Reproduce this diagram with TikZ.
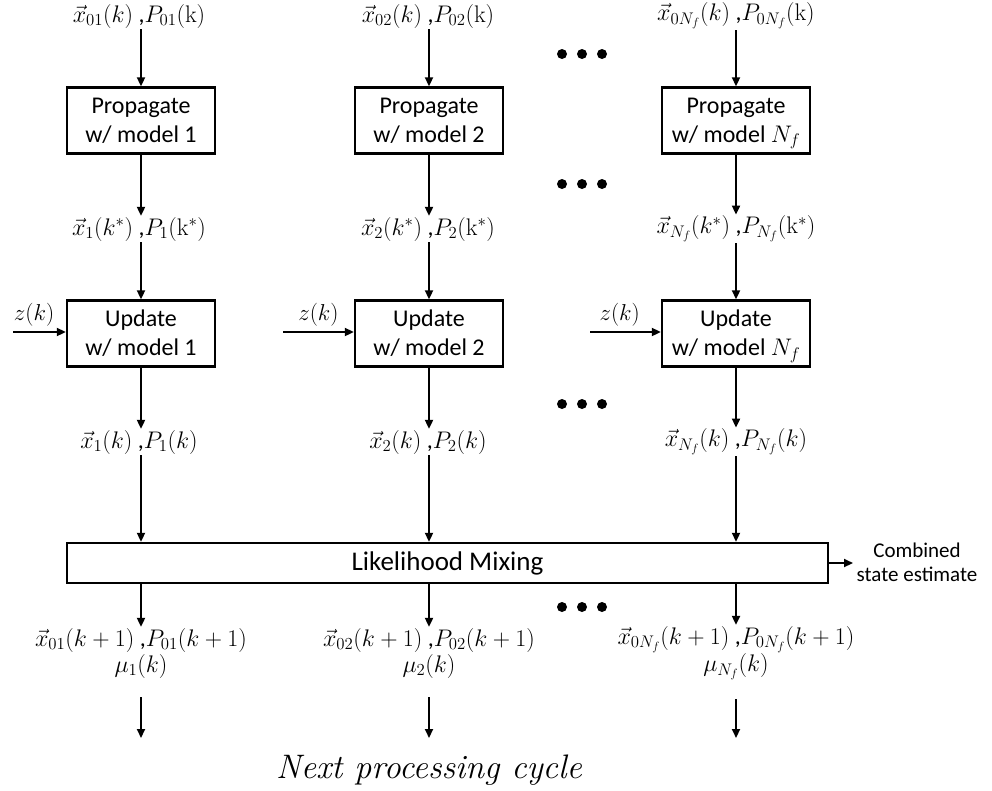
\RequirePackage{fix-cm}
\documentclass[tikz,border=0pt]{standalone}
\usepackage[no-math]{fontspec}
\setmainfont{Carlito}
\newfontfamily\nextfont{Latin Modern Roman}
\usetikzlibrary{arrows.meta}

\begin{document}
\begin{tikzpicture}[x=1pt,y=-1pt,
  every node/.style={inner sep=0pt},
  procbox/.style={draw, line width=2.4pt, minimum width=148pt, minimum height=66pt,
    align=center, font=\fontsize{24}{29}\selectfont},
  mixbox/.style={draw, line width=2.4pt, minimum width=761pt, minimum height=40pt,
    font=\fontsize{27}{30}\selectfont},
  mathlbl/.style={font=\fontsize{24}{26}\selectfont, align=center, inner sep=1pt},
  zlbl/.style={font=\fontsize{23}{26}\selectfont},
  arr/.style={line width=2pt, -{Triangle[length=9pt,width=8pt]}},
  dot/.style={fill=black}
]
\useasboundingbox (0,0) rectangle (992,790);

% Processing boxes, one column per filter model
\node[procbox] (prop1) at (141,120.5) {Propagate\\w/ model 1};
\node[procbox] (prop2) at (429,120.5) {Propagate\\w/ model 2};
\node[procbox] (prop3) at (736,120.5) {Propagate\\w/ model \smash{$N_f$}};
\node[procbox] (upd1) at (141,333.5) {Update\\w/ model 1};
\node[procbox] (upd2) at (429,333.5) {Update\\w/ model 2};
\node[procbox] (upd3) at (736,333.5) {Update\\w/ model \smash{$N_f$}};
\node[mixbox] (lik) at (447.5,563) {Likelihood Mixing};

% Initial conditions
\node[mathlbl] (in1) at (139,16) {$\vec{x}_{01}(k)$\ ,$P_{01}(\mathrm{k})$};
\node[mathlbl] (in2) at (428,16) {$\vec{x}_{02}(k)$\ ,$P_{02}(\mathrm{k})$};
\node[mathlbl] (in3) at (736,16) {$\vec{x}_{0N_f}(k)$\ ,$P_{0N_f}(\mathrm{k})$};

% Propagated estimates
\node[mathlbl] (mid1) at (139,229) {$\vec{x}_{1}(k^*)$\ ,$P_{1}(\mathrm{k}^*)$};
\node[mathlbl] (mid2) at (428,229) {$\vec{x}_{2}(k^*)$\ ,$P_{2}(\mathrm{k}^*)$};
\node[mathlbl] (mid3) at (736,229) {$\vec{x}_{N_f}(k^*)$\ ,$P_{N_f}(\mathrm{k}^*)$};

% Updated estimates
\node[mathlbl] (out1) at (139,442) {$\vec{x}_{1}(k)$\ ,$P_{1}(k)$};
\node[mathlbl] (out2) at (428,442) {$\vec{x}_{2}(k)$\ ,$P_{2}(k)$};
\node[mathlbl] (out3) at (736,442) {$\vec{x}_{N_f}(k)$\ ,$P_{N_f}(k)$};

% Mixed initial conditions for the next cycle
\node[mathlbl] (bot1) at (141,653) {$\vec{x}_{01}(k+1)$\ ,$P_{01}(k+1)$\\$\mu_{1}(k)$};
\node[mathlbl] (bot2) at (429,653) {$\vec{x}_{02}(k+1)$\ ,$P_{02}(k+1)$\\$\mu_{2}(k)$};
\node[mathlbl] (bot3) at (736,653) {$\vec{x}_{0N_f}(k+1)$\ ,$P_{0N_f}(k+1)$\\$\mu_{N_f}(k)$};

% Vertical flow in each column
\foreach \c in {1,2,3}{
  \draw[arr] (prop\c.north |- in\c.south) -- (prop\c.north);
  \draw[arr] (prop\c.south) -- (prop\c.south |- mid\c.north);
  \draw[arr] (upd\c.north |- mid\c.south) -- (upd\c.north);
  \draw[arr] (upd\c.south) -- (upd\c.south |- out\c.north);
  \draw[arr] (upd\c.south |- out\c.south) -- (upd\c.south |- lik.north);
  \draw[arr] (upd\c.south |- lik.south) -- (upd\c.south |- bot\c.north);
}

% Hand-off to the next processing cycle
\coordinate (nx1) at (141,738);
\coordinate (nx2) at (429,738);
\coordinate (nx3) at (736,738);
\foreach \c in {1,2,3}{
  \draw[arr, shorten <=18pt] (bot\c.south -| nx\c) -- (nx\c);
}
\node[font={\nextfont\itshape\fontsize{34}{36}\selectfont}] (next) at (429,770) {Next processing cycle};

% Measurement inputs
\coordinate (z1) at (13,332);
\coordinate (z2) at (283,332);
\coordinate (z3) at (590,332);
\draw[arr] (z1) -- (z1 -| upd1.west) node[zlbl, pos=0.4, above=5pt] (zl1) {$z(k)$};
\draw[arr] (z2) -- (z2 -| upd2.west) node[zlbl, pos=0.5, above=5pt] (zl2) {$z(k)$};
\draw[arr] (z3) -- (z3 -| upd3.west) node[zlbl, pos=0.42, above=5pt] (zl3) {$z(k)$};

% Combined output
\coordinate (comb) at (853,563);
\draw[arr] (lik.east) -- (comb);
\node[font=\fontsize{21}{24}\selectfont, align=center] (combtxt) at (917,562) {Combined\\state estimate};

% Ellipses between the second and last columns
\foreach \yy in {54,184,404,607}
  \foreach \xx in {562,582,602}
    \fill[dot] (\xx,\yy) circle[radius=5pt];
\end{tikzpicture}
\end{document}
